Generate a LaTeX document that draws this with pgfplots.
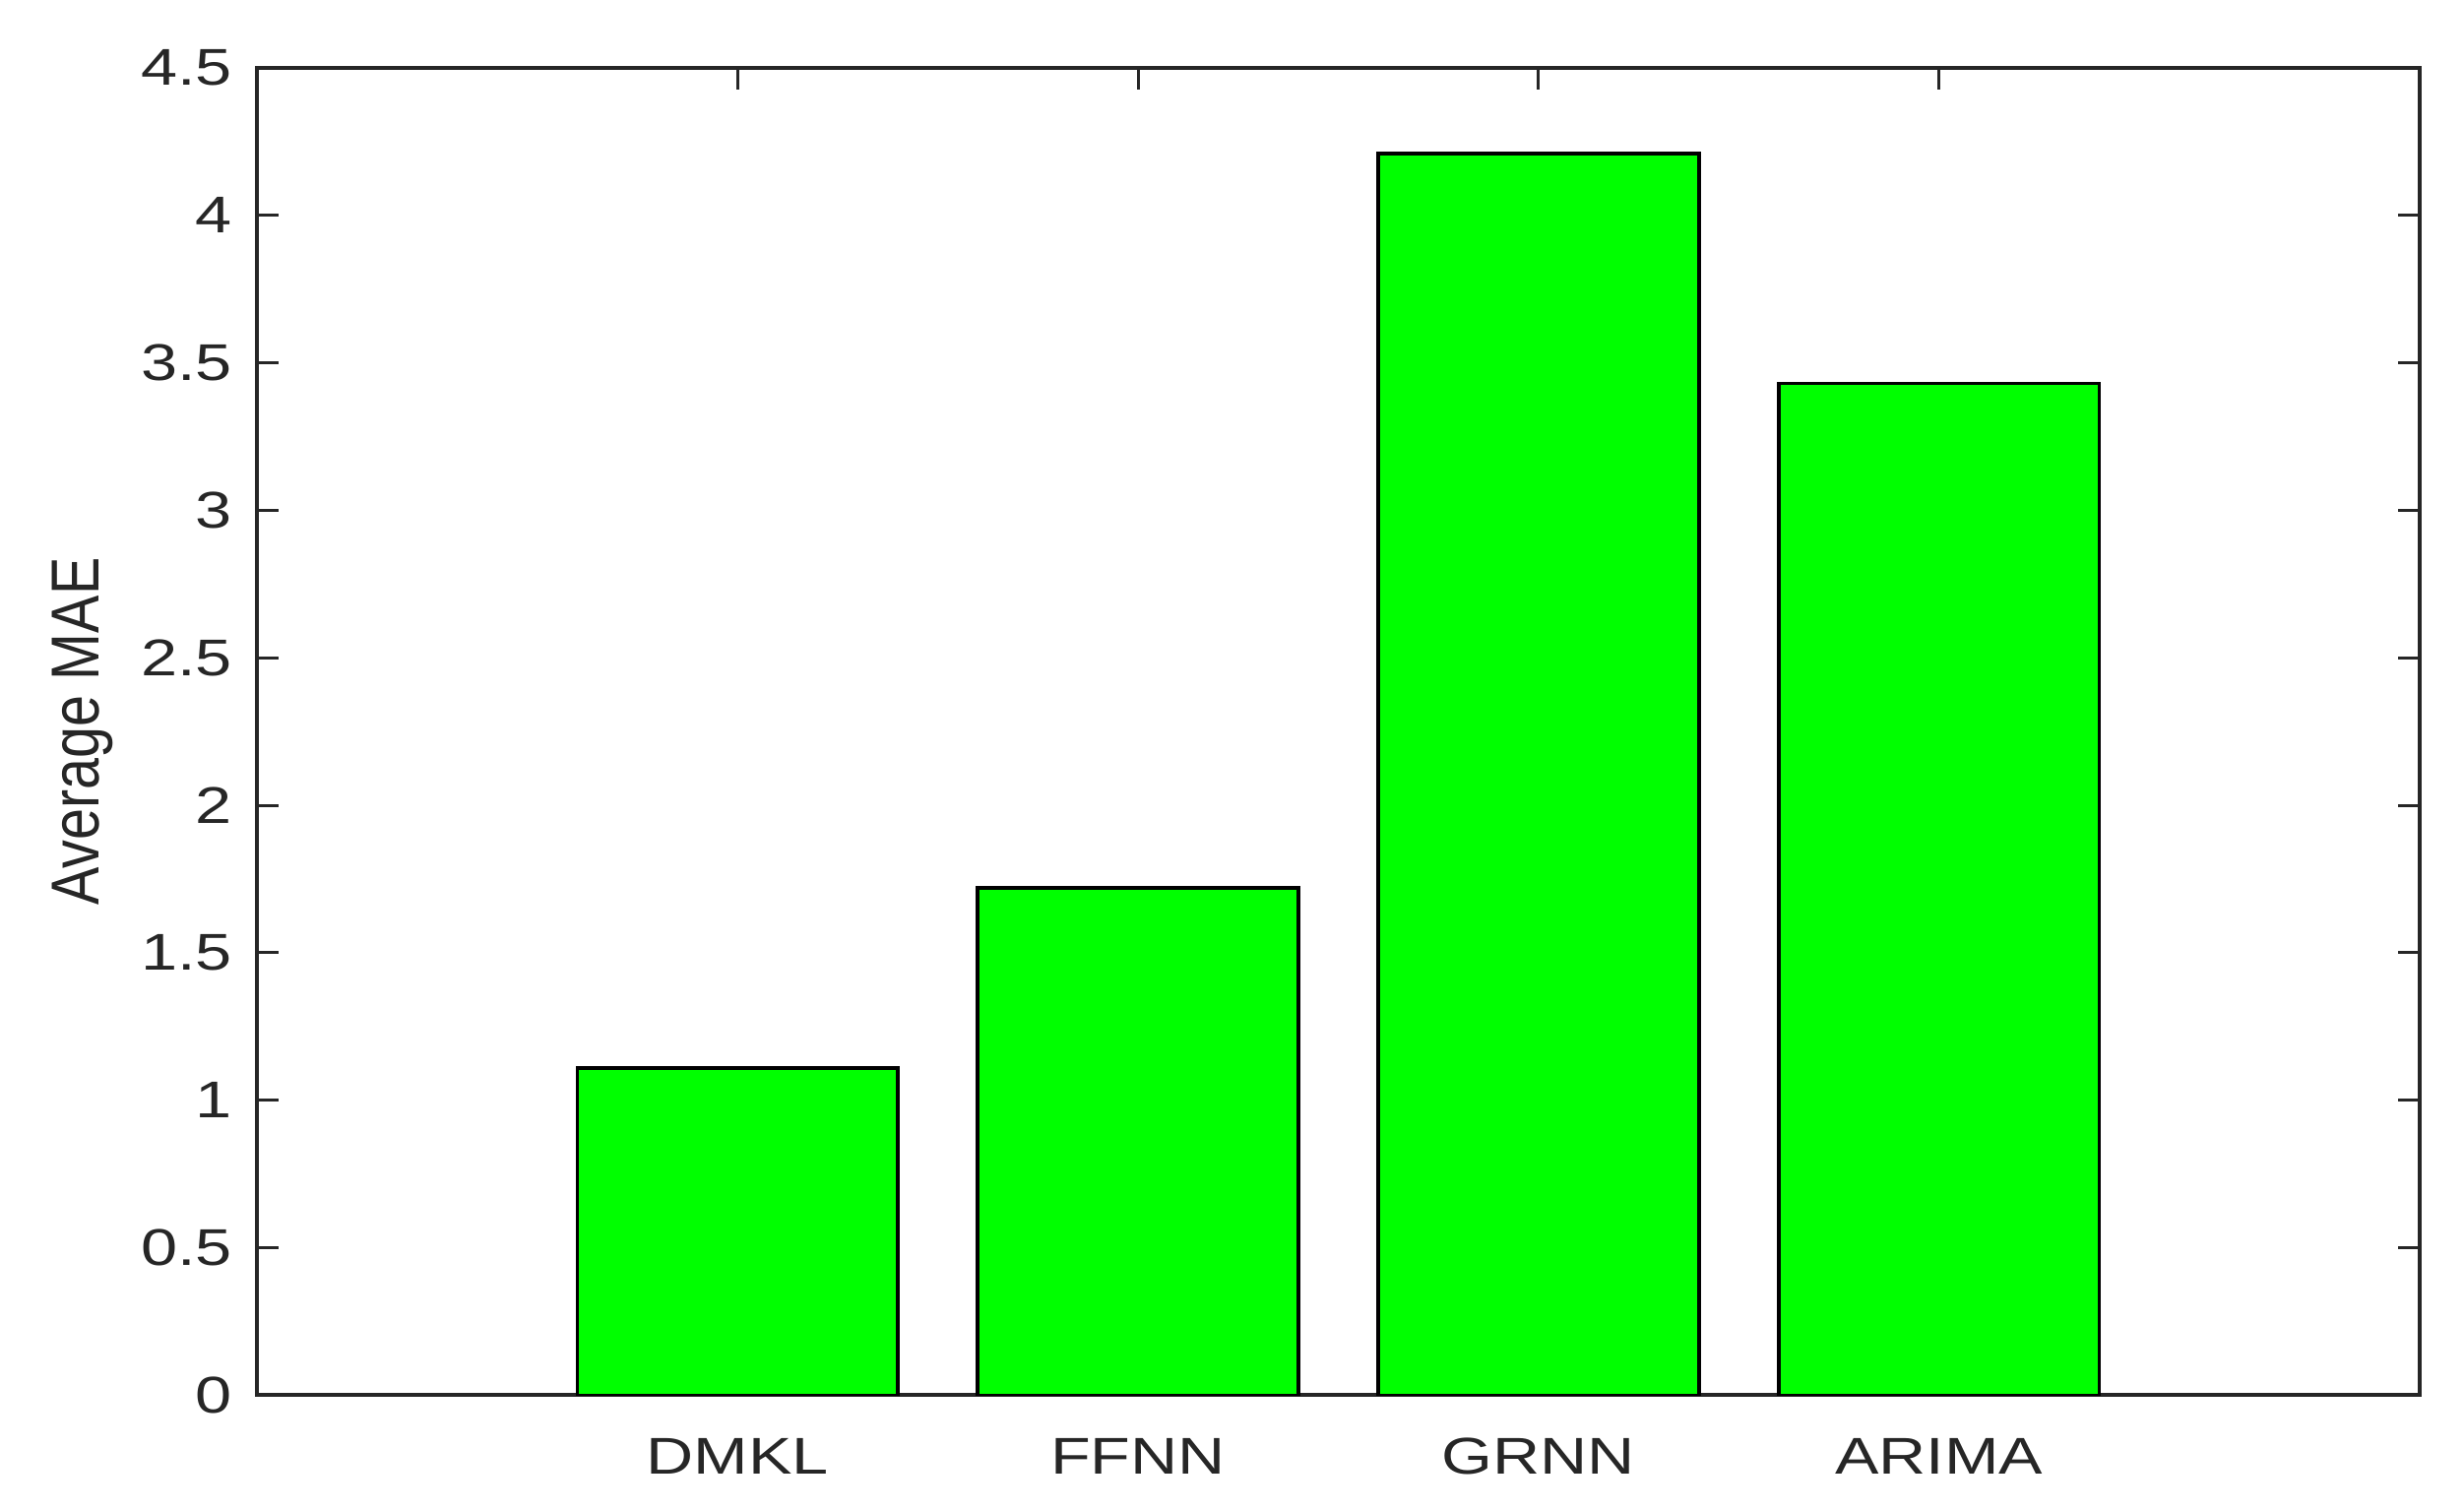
\documentclass[border=0pt]{standalone}
\usepackage{fontspec}
\setmainfont{Liberation Sans}
\usepackage{pgfplots}
\pgfplotsset{compat=1.18}
\definecolor{axgray}{HTML}{262626}
\definecolor{bargreen}{HTML}{00FF00}
\newcommand{\wide}[1]{\scalebox{1.27}[1]{#1}}
\begin{document}
\begin{tikzpicture}
\begin{axis}[
    scale only axis,
    width=439.6pt, height=269.8pt,
    xmin=-0.2, xmax=5.2,
    ymin=0, ymax=4.5,
    xtick={1,2,3,4},
    xticklabels={\wide{DMKL},\wide{FFNN},\wide{GRNN},\wide{ARIMA}},
    ytick={0,0.5,...,4.5},
    yticklabel={\wide{\pgfmathprintnumber{\tick}}},
    /pgf/number format/assume math mode=true,
    tick align=inside,
    tick pos=both,
    major tick length=4.4pt,
    axis line style={axgray, line width=0.8pt},
    every tick/.style={axgray, line width=0.6pt},
    tick label style={font=\fontsize{10.5}{12}\selectfont, text=axgray},
    xticklabel style={yshift=-5.2pt},
    yticklabel style={xshift=-1.5pt},
    ylabel={\scalebox{1}[1.2]{Average MAE}},
    ylabel style={font=\fontsize{11.5}{13}\selectfont, text=axgray,
        at={(axis description cs:0,0.5)}, anchor=base, yshift=32pt},
]
\addplot[ybar, bar width=0.8, draw=black, line width=0.75pt, fill=bargreen]
    coordinates {(1,1.11) (2,1.72) (3,4.21) (4,3.43)};
\end{axis}
\pgfresetboundingbox
\path (-52.2pt,-23.4pt) rectangle (448.6pt,283.6pt);
\end{tikzpicture}
\end{document}
